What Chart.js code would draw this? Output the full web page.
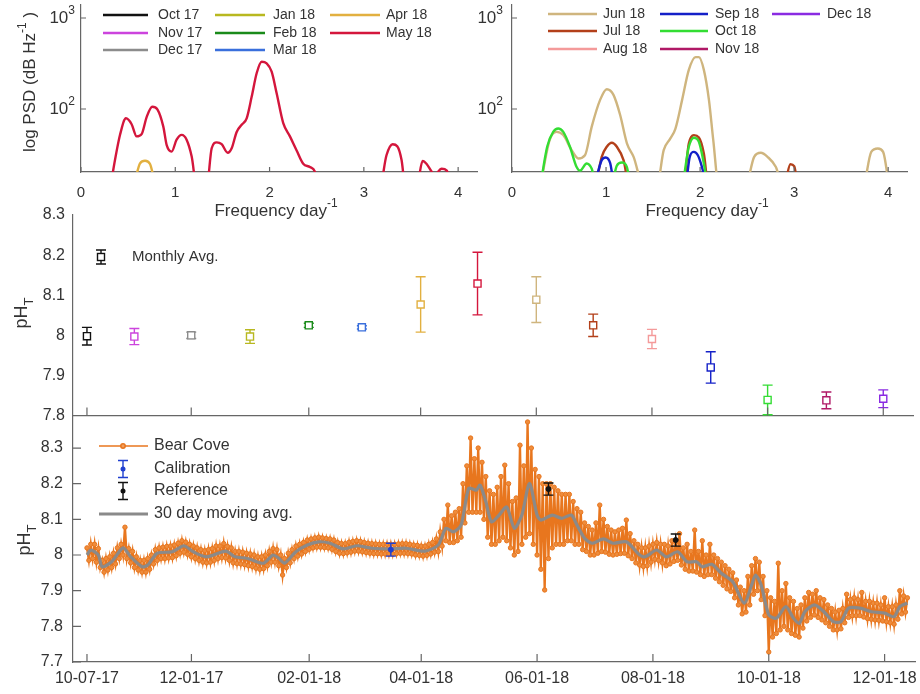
<!DOCTYPE html>
<html>
<head>
<meta charset="utf-8">
<script src="https://cdn.jsdelivr.net/npm/chart.js@4.4.1/dist/chart.umd.min.js"></script>
<style>
  body { margin: 0; background: #fff; }
  #wrap { position: relative; width: 920px; height: 694px; overflow: hidden; }
  canvas { position: absolute; }
</style>
</head>
<body>
<div id="wrap">
  <canvas id="psdA" width="490" height="230" style="left:0;top:0"></canvas>
  <canvas id="psdB" width="460" height="230" style="left:460px;top:0"></canvas>
  <canvas id="monthly" width="920" height="222" style="left:0;top:200px"></canvas>
  <canvas id="series" width="920" height="289" style="left:0;top:405px"></canvas>
</div>
<script>
// ---- months (shared by PSD panels and monthly averages) ----
const months = ["Oct 17", "Nov 17", "Dec 17", "Jan 18", "Feb 18", "Mar 18", "Apr 18", "May 18",
                "Jun 18", "Jul 18", "Aug 18", "Sep 18", "Oct 18", "Nov 18", "Dec 18"];
const monthColors = ["#111111", "#cc44dd", "#8c8c8c", "#b8b820", "#1a8a1a", "#3a6fdc", "#e2b040", "#d4163c",
                     "#cfb57e", "#b3401a", "#f49a9a", "#1420c8", "#33dd33", "#b01866", "#8a2be2"];

// monthly averages (days since 10-07-17)
const monthDays = [0, 25, 55, 86, 117, 145, 176, 206, 237, 267, 298, 329, 359, 390, 420];
const monthAvg = [7.998, 7.997, 8.0, 7.997, 8.025, 8.02, 8.077, 8.129, 8.089, 8.025, 7.991, 7.92, 7.839, 7.838, 7.842];
const monthErr = [0.022, 0.02, 0.008, 0.017, 0.005, 0.004, 0.069, 0.078, 0.057, 0.028, 0.024, 0.039, 0.037, 0.021, 0.022];

// ---- power spectra (frequency in day^-1, PSD) ----
const psdTicksX = [0, 1, 2, 3, 4];
const psdTicksY = [100, 1000];
const psdExp = [2, 3];

const aprFreq = [0.56, 0.626, 0.679, 0.732, 0.79];
const aprPsd = [14, 25.3, 27, 24.9, 14];
const mayFreq = [0.31, 0.414, 0.477, 0.537, 0.59, 0.643, 0.697, 0.756, 0.81, 0.873,
                 0.909, 0.961, 1.014, 1.068, 1.12, 1.174, 1.227, 1.333, 1.386, 1.439,
                 1.492, 1.556, 1.598, 1.651, 1.704, 1.757, 1.81, 1.863, 1.916, 1.969,
                 2.022, 2.075, 2.145, 2.216, 2.287, 2.357, 2.428, 2.481, 2.52, 3.17,
                 3.24, 3.305, 3.354, 3.4, 3.44, 3.56, 3.623, 3.666, 3.72, 3.75,
                 3.825, 3.88, 3.92];
const mayPsd = [14, 52, 79, 68, 50, 53, 82, 106, 99, 64,
                40, 34, 46, 52, 46, 30, 14, 14, 37, 43,
                41, 33, 37, 56, 67, 79, 136, 247, 331, 318,
                257, 149, 70, 50, 35, 25, 23, 20.5, 14, 14,
                31, 41, 39, 27.5, 14, 14, 26.9, 24.9, 20.5, 19,
                22, 21, 14];
const junFreq = [0.30, 0.40, 0.474, 0.545, 0.634, 0.705, 0.776, 0.848, 0.937, 1.008,
                 1.079, 1.15, 1.222, 1.293, 1.40, 1.54, 1.613, 1.684, 1.738, 1.809,
                 1.88, 1.952, 1.987, 2.04, 2.094, 2.14, 2.20, 2.48, 2.575, 2.646,
                 2.717, 2.806, 2.88, 3.73, 3.82, 3.89, 3.946, 4.01];
const junPsd = [14, 45.5, 56, 51.7, 35.3, 28.6, 31, 64, 126, 165,
                143, 86, 42, 29.8, 14, 14, 35.3, 47.5, 61, 126,
                269, 372, 372, 269, 126, 45.5, 14, 14, 29.8, 33,
                29.8, 23, 14, 14, 33.8, 36.8, 33.8, 14];
const julFreq = [0.89, 0.954, 1.008, 1.061, 1.115, 1.186, 1.25, 1.82, 1.88, 1.934, 1.987, 2.04, 2.09, 2.89, 2.96, 3.0, 3.04];
const julPsd = [14, 29.8, 38.5, 42.6, 38.5, 27.4, 14, 14, 41.8, 51.6, 48.7, 32.4, 14, 14, 24.7, 23.5, 14];
const sepFreq = [0.875, 0.954, 0.997, 1.043, 1.095, 1.84, 1.89, 1.934, 1.976, 2.02, 2.07];
const sepPsd = [14, 27.4, 29.3, 25.6, 14, 14, 29.8, 33.8, 31, 23, 14];
const octFreq = [0.30, 0.374, 0.438, 0.491, 0.545, 0.616, 0.687, 0.723, 0.794, 0.848,
                 0.90, 1.05, 1.115, 1.168, 1.222, 1.265, 1.80, 1.88, 1.934, 1.987, 2.04, 2.08];
const octPsd = [14, 38.5, 56, 61, 56, 38.5, 23, 21, 25.2, 22,
                14, 14, 23.9, 25.8, 23, 14, 14, 38.5, 48.3, 43.6, 25.2, 14];

// ---- time series (days since 10-07-17) ----
const dateTickDays = [0, 55, 117, 176, 237, 298, 359, 420];
const dateTickLabels = ["10-07-17", "12-01-17", "02-01-18", "04-01-18", "06-01-18", "08-01-18", "10-01-18", "12-01-18"];
const monthlyTicks = [7.8, 7.9, 8.0, 8.1, 8.2, 8.3];
const seriesTicks = [7.7, 7.8, 7.9, 8.0, 8.1, 8.2, 8.3];

// Bear Cove readings: upper edge of the band on even days, lower edge on odd days
const bearStartDay = 0;
const bearUpper = [
  8.02, 8.03, 8.03, 8.018, 7.985, 7.99, 7.995, 8.005, 8.02, 8.03,
  8.078, 8.018, 8.01, 7.995, 7.985, 7.985, 7.99, 8.0, 8.015, 8.02,
  8.022, 8.024, 8.025, 8.028, 8.033, 8.04, 8.036, 8.03, 8.025, 8.02,
  8.015, 8.012, 8.015, 8.018, 8.025, 8.025, 8.032, 8.024, 8.02, 8.01,
  8.01, 8.008, 8.005, 8.003, 8.0, 7.995, 7.995, 8.0, 8.01, 8.018,
  8.015, 8.0, 7.99, 8.005, 8.015, 8.025, 8.03, 8.035, 8.042, 8.045,
  8.048, 8.05, 8.048, 8.046, 8.045, 8.042, 8.035, 8.032, 8.032, 8.036,
  8.038, 8.04, 8.038, 8.035, 8.033, 8.032, 8.031, 8.03, 8.03, 8.03,
  8.03, 8.03, 8.031, 8.032, 8.032, 8.03, 8.028, 8.027, 8.025, 8.025,
  8.03, 8.035, 8.045, 8.065, 8.1, 8.14, 8.11, 8.12, 8.13, 8.2,
  8.25, 8.328, 8.27, 8.3, 8.26, 8.22, 8.18, 8.17, 8.19, 8.22,
  8.252, 8.2, 8.15, 8.16, 8.308, 8.25, 8.373, 8.3, 8.24, 8.22,
  8.2, 8.2, 8.2, 8.19, 8.18, 8.17, 8.17, 8.17, 8.15, 8.13,
  8.12, 8.09, 8.08, 8.07, 8.09, 8.14, 8.1, 8.08, 8.07, 8.065,
  8.07, 8.075, 8.098, 8.06, 8.04, 8.03, 8.02, 8.02, 8.025, 8.03,
  8.035, 8.03, 8.03, 8.025, 8.04, 8.035, 8.06, 8.02, 8.03, 8.01,
  8.07, 8.01, 8.04, 8.0, 8.03, 8.0, 7.99, 7.98, 7.97, 7.96,
  7.95, 7.93, 7.91, 7.9, 7.94, 7.97, 7.99, 7.98, 7.94, 7.9,
  7.88, 7.87, 7.977, 7.9, 7.92, 7.88, 7.87, 7.85, 7.86, 7.88,
  7.895, 7.89, 7.9, 7.88, 7.875, 7.86, 7.85, 7.84, 7.845, 7.85,
  7.89, 7.875, 7.88, 7.875, 7.895, 7.87, 7.87, 7.865, 7.865, 7.86,
  7.88, 7.855, 7.855, 7.86, 7.9, 7.885, 7.88
];
const bearLower = [
  7.985, 7.99, 7.98, 7.965, 7.952, 7.958, 7.965, 7.975, 7.99, 8.0,
  7.99, 7.978, 7.965, 7.958, 7.952, 7.952, 7.96, 7.975, 7.985, 7.99,
  7.99, 7.992, 7.993, 7.998, 8.005, 8.008, 8.002, 7.995, 7.99, 7.985,
  7.98, 7.978, 7.98, 7.985, 7.99, 7.993, 7.992, 7.985, 7.978, 7.976,
  7.975, 7.973, 7.97, 7.968, 7.963, 7.96, 7.962, 7.97, 7.98, 7.98,
  7.97, 7.944, 7.965, 7.978, 7.99, 7.997, 8.003, 8.01, 8.016, 8.02,
  8.022, 8.022, 8.021, 8.02, 8.016, 8.01, 8.005, 8.004, 8.006, 8.008,
  8.011, 8.011, 8.009, 8.007, 8.005, 8.004, 8.004, 8.003, 8.003, 8.003,
  8.003, 8.004, 8.005, 8.005, 8.004, 8.003, 8.0, 7.999, 7.997, 7.999,
  8.003, 8.008, 8.01, 8.025, 8.04, 8.035, 8.035, 8.04, 8.05, 8.09,
  8.12, 8.12, 8.12, 8.12, 8.1, 8.05, 8.03, 8.03, 8.04, 8.05,
  8.04, 8.02, 8.0, 8.01, 8.03, 8.05, 8.06, 8.03, 8.0, 7.96,
  7.902, 7.99, 8.02, 8.03, 8.03, 8.03, 8.04, 8.04, 8.03, 8.03,
  8.015, 8.01, 8.0, 8.0, 8.005, 8.01, 8.008, 8.002, 8.0, 8.002,
  8.004, 8.005, 7.998, 7.99, 7.978, 7.972, 7.968, 7.97, 7.98, 7.988,
  7.985, 7.978, 7.97, 7.975, 7.982, 7.985, 7.972, 7.96, 7.955, 7.955,
  7.952, 7.945, 7.94, 7.945, 7.945, 7.935, 7.925, 7.915, 7.905, 7.898,
  7.88, 7.86, 7.835, 7.84, 7.86, 7.89, 7.9, 7.875, 7.83, 7.728,
  7.77, 7.78, 7.79, 7.8, 7.79, 7.78, 7.775, 7.77, 7.795, 7.815,
  7.825, 7.832, 7.825, 7.818, 7.81, 7.8, 7.79, 7.79, 7.793, 7.81,
  7.825, 7.83, 7.83, 7.83, 7.826, 7.822, 7.82, 7.818, 7.817, 7.815,
  7.813, 7.81, 7.806, 7.82, 7.835, 7.84
];
const maDays = [0, 2, 6, 8, 13, 19, 23, 29, 32, 37, 45, 51, 56, 63, 73, 78, 84, 87, 93, 98,
                101, 104, 110, 116, 122, 128, 135, 142, 150, 159, 168, 178, 185, 189, 193, 197, 201, 205, 207, 210,
                213, 217, 221, 225, 229, 233, 237, 239, 245, 250, 255, 258, 262, 266, 272, 277, 284, 291, 294, 300,
                305, 311, 316, 321, 324, 329, 334, 340, 346, 350, 352, 355, 359, 363, 368, 372, 375, 378, 383, 388,
                393, 397, 401, 407, 413, 420, 425, 428, 432];
const maPH = [8.0, 8.014, 8.0, 7.967, 7.981, 8.02, 7.995, 7.967, 7.972, 8.005, 8.009, 8.026, 8.009, 7.995, 8.011, 7.995, 7.991, 7.986, 7.977, 8.0,
              7.991, 7.977, 8.009, 8.028, 8.037, 8.033, 8.017, 8.026, 8.019, 8.017, 8.019, 8.011, 8.028, 8.075, 8.065, 8.084, 8.187, 8.182, 8.196, 8.15,
              8.093, 8.112, 8.135, 8.075, 8.112, 8.201, 8.112, 8.098, 8.112, 8.103, 8.112, 8.084, 8.047, 8.033, 8.045, 8.033, 8.037, 8.0, 7.995, 8.014,
              7.995, 8.009, 7.981, 7.981, 7.967, 7.974, 7.949, 7.925, 7.865, 7.916, 7.944, 7.916, 7.832, 7.823, 7.855, 7.823, 7.808, 7.841, 7.86, 7.841,
              7.813, 7.813, 7.851, 7.851, 7.841, 7.837, 7.827, 7.855, 7.865];
const calDays = [160];
const calPH = [8.015];
const calErr = [0.018];
const refDays = [243, 310];
const refPH = [8.185, 8.042];
const refErr = [0.017, 0.017];

// ---- helpers ----
const FONT = "'Liberation Sans', Arial, sans-serif";
const TEXT = "#333";
const AXIS = { color: "#666", width: 1.2 };
const X_MIN = -7.36, X_MAX = 436;

Chart.defaults.font.family = FONT;
Chart.defaults.color = TEXT;

function fixSize(w, h) {
  return function (s) {
    if (w != null) s.width = w;
    if (h != null) s.height = h;
    s.paddingLeft = s.paddingRight = s.paddingTop = s.paddingBottom = 0;
  };
}

function richText(ctx, parts, x, y, align) {
  let w = 0;
  parts.forEach(p => { ctx.font = p[1] + "px " + FONT; w += ctx.measureText(p[0]).width; });
  let cx = align === "center" ? x - w / 2 : align === "right" ? x - w : x;
  parts.forEach(p => {
    ctx.font = p[1] + "px " + FONT;
    ctx.fillText(p[0], cx, y + (p[2] || 0));
    cx += ctx.measureText(p[0]).width;
  });
}

function innerTicks(xVals, yVals, len) {
  return {
    id: "innerTicks",
    afterDatasetsDraw(chart) {
      const { ctx, chartArea: a, scales } = chart;
      ctx.save();
      ctx.strokeStyle = "#666";
      ctx.lineWidth = 1.2;
      ctx.beginPath();
      xVals.forEach(v => {
        const px = scales.x.getPixelForValue(v);
        ctx.moveTo(px, a.bottom); ctx.lineTo(px, a.bottom - len);
      });
      yVals.forEach(v => {
        const py = scales.y.getPixelForValue(v);
        ctx.moveTo(a.left, py); ctx.lineTo(a.left + len, py);
      });
      ctx.stroke();
      ctx.restore();
    }
  };
}

function errorBars(hook) {
  const draw = chart => {
    const { ctx, scales } = chart;
    ctx.save();
    chart.data.datasets.forEach(ds => {
      if (!ds.errors) return;
      ds.data.forEach((p, j) => {
        const px = scales.x.getPixelForValue(p.x);
        const t = scales.y.getPixelForValue(p.y + ds.errors[j]);
        const b = scales.y.getPixelForValue(p.y - ds.errors[j]);
        ctx.strokeStyle = Array.isArray(ds.errorColor) ? ds.errorColor[j] : ds.errorColor;
        ctx.lineWidth = 1.4;
        ctx.beginPath();
        ctx.moveTo(px, t); ctx.lineTo(px, b);
        ctx.moveTo(px - 5, t); ctx.lineTo(px + 5, t);
        ctx.moveTo(px - 5, b); ctx.lineTo(px + 5, b);
        ctx.stroke();
      });
    });
    ctx.restore();
  };
  return hook === "before" ? { id: "errorBars", beforeDatasetsDraw: draw } : { id: "errorBars", afterDatasetsDraw: draw };
}

// ---- PSD panels ----
const psdSeries = {
  "Apr 18": [aprFreq, aprPsd], "May 18": [mayFreq, mayPsd], "Jun 18": [junFreq, junPsd],
  "Jul 18": [julFreq, julPsd], "Sep 18": [sepFreq, sepPsd], "Oct 18": [octFreq, octPsd]
};

function psdDatasets(idxs) {
  return idxs.map((mi, k) => {
    const s = psdSeries[months[mi]] || [[], []];
    return {
      label: months[mi],
      data: s[0].map((f, j) => ({ x: f, y: s[1][j] })),
      borderColor: monthColors[mi],
      borderWidth: 2.4,
      pointRadius: 0,
      showLine: true,
      cubicInterpolationMode: "monotone",
      order: idxs.length - k
    };
  });
}

function psdDecor(idxs, lineX0, lineX1, textX, rowY, freqX, yLabelRight, withYTitle) {
  return {
    id: "psdDecor",
    afterDraw(chart) {
      const ctx = chart.ctx, ys = chart.scales.y;
      ctx.save();
      ctx.fillStyle = TEXT;
      ctx.textAlign = "left";
      ctx.textBaseline = "middle";
      psdTicksY.forEach((v, i) => richText(ctx, [["10", 17], [String(psdExp[i]), 12, -7]], yLabelRight, ys.getPixelForValue(v), "right"));
      richText(ctx, [["Frequency day", 17], ["-1", 12, -7]], freqX, 211, "center");
      idxs.forEach((mi, k) => {
        const c = Math.floor(k / 3), r = k % 3;
        ctx.strokeStyle = monthColors[mi];
        ctx.lineWidth = 2.5;
        ctx.beginPath();
        ctx.moveTo(lineX0[c], rowY[r]); ctx.lineTo(lineX1[c], rowY[r]);
        ctx.stroke();
        richText(ctx, [[months[mi], 14]], textX[c], rowY[r], "left");
      });
      if (withYTitle) {
        ctx.translate(30, 82);
        ctx.rotate(-Math.PI / 2);
        richText(ctx, [["log PSD (dB Hz", 17], ["-1", 12, -7], [" )", 17]], 0, 0, "center");
      }
      ctx.restore();
    }
  };
}

function psdChart(id, idxs, yWidth, decor) {
  return new Chart(document.getElementById(id), {
    type: "scatter",
    data: { datasets: psdDatasets(idxs) },
    options: {
      responsive: false, animation: false, devicePixelRatio: 1, events: [],
      layout: { padding: { top: 5, right: 13, left: 0, bottom: 0 } },
      plugins: { legend: { display: false }, tooltip: { enabled: false } },
      scales: {
        x: {
          type: "linear", min: 0, max: 4.2,
          grid: { display: false, drawTicks: false }, border: AXIS,
          afterBuildTicks: s => { s.ticks = psdTicksX.map(v => ({ value: v })); },
          ticks: { padding: 12, font: { size: 15 }, color: TEXT, maxRotation: 0, autoSkip: false },
          afterFit: fixSize(null, 58)
        },
        y: {
          type: "logarithmic", min: 20.3, max: 1390,
          grid: { display: false, drawTicks: false }, border: AXIS,
          afterBuildTicks: s => { s.ticks = psdTicksY.map(v => ({ value: v })); },
          ticks: { display: false },
          afterFit: fixSize(yWidth, null)
        }
      }
    },
    plugins: [innerTicks(psdTicksX, psdTicksY, 5), decor]
  });
}

psdChart("psdA", [0, 1, 2, 3, 4, 5, 6, 7], 81,
  psdDecor([0, 1, 2, 3, 4, 5, 6, 7], [103, 215, 330], [148, 265, 380], [158, 273, 386], [15, 33, 50], 276, 75, true));
psdChart("psdB", [8, 9, 10, 11, 12, 13, 14], 52,
  psdDecor([8, 9, 10, 11, 12, 13, 14], [88, 200, 312], [137, 248, 360], [143, 255, 367], [14, 31, 49], 247, 43, false));

// ---- monthly averages ----
function phTitle(cx, cy) {
  return ctx => {
    ctx.save();
    ctx.fillStyle = TEXT;
    ctx.textAlign = "left";
    ctx.textBaseline = "middle";
    ctx.translate(cx, cy);
    ctx.rotate(-Math.PI / 2);
    richText(ctx, [["pH", 18], ["T", 13, 7]], 0, 0, "center");
    ctx.restore();
  };
}

const monthlyDecor = {
  id: "monthlyDecor",
  afterDraw(chart) {
    const ctx = chart.ctx;
    phTitle(22, 113)(ctx);
    ctx.save();
    ctx.strokeStyle = "#111";
    ctx.lineWidth = 1.4;
    ctx.beginPath();
    ctx.moveTo(101, 50); ctx.lineTo(101, 64);
    ctx.moveTo(96, 50); ctx.lineTo(106, 50);
    ctx.moveTo(96, 64); ctx.lineTo(106, 64);
    ctx.stroke();
    ctx.fillStyle = "#fff";
    ctx.fillRect(97.5, 53.5, 7, 7);
    ctx.strokeRect(97.5, 53.5, 7, 7);
    ctx.fillStyle = TEXT;
    ctx.textAlign = "left";
    ctx.textBaseline = "middle";
    richText(ctx, [["Monthly Avg.", 15]], 132, 57, "left");
    ctx.restore();
  }
};

new Chart(document.getElementById("monthly"), {
  type: "scatter",
  data: {
    datasets: [{
      label: "Monthly Avg.",
      data: monthDays.map((d, i) => ({ x: d, y: monthAvg[i] })),
      errors: monthErr,
      errorColor: monthColors,
      pointStyle: "rect",
      pointRadius: 5,
      pointBorderWidth: 1.4,
      pointBorderColor: monthColors,
      pointBackgroundColor: "#ffffff"
    }]
  },
  options: {
    responsive: false, animation: false, devicePixelRatio: 1, events: [],
    layout: { padding: { top: 15, right: 4, left: 0, bottom: 0 } },
    plugins: { legend: { display: false }, tooltip: { enabled: false } },
    scales: {
      x: {
        type: "linear", min: X_MIN, max: X_MAX,
        grid: { display: false, drawTicks: false }, border: AXIS,
        ticks: { display: false },
        afterFit: fixSize(null, 5)
      },
      y: {
        min: 7.8, max: 8.3,
        grid: { display: false, drawTicks: false }, border: AXIS,
        afterBuildTicks: s => { s.ticks = monthlyTicks.map(v => ({ value: v })); },
        ticks: { padding: 8, font: { size: 16 }, color: TEXT, autoSkip: false, callback: v => String(+v.toFixed(1)) },
        afterFit: fixSize(73, null)
      }
    }
  },
  plugins: [errorBars("before"), innerTicks(dateTickDays, [], 8), monthlyDecor]
});

// ---- Bear Cove time series ----
const BEAR = "#e8761e";
const bearData = [];
bearUpper.forEach((v, i) => {
  bearData.push({ x: bearStartDay + 2 * i, y: v });
  if (i < bearLower.length) bearData.push({ x: bearStartDay + 2 * i + 1, y: bearLower[i] });
});

const seriesDecor = {
  id: "seriesDecor",
  afterDraw(chart) {
    const ctx = chart.ctx;
    phTitle(25, 135)(ctx);
    ctx.save();
    // Bear Cove
    ctx.strokeStyle = BEAR; ctx.lineWidth = 1.5;
    ctx.beginPath(); ctx.moveTo(99, 41); ctx.lineTo(148, 41); ctx.stroke();
    ctx.fillStyle = "#f0a060";
    ctx.beginPath(); ctx.arc(123, 41, 2.2, 0, Math.PI * 2); ctx.fill(); ctx.stroke();
    // Calibration / Reference
    [[64, "#1f3fd0"], [86, "#111111"]].forEach(r => {
      ctx.strokeStyle = r[1]; ctx.fillStyle = r[1]; ctx.lineWidth = 1.4;
      ctx.beginPath();
      ctx.moveTo(123, r[0] - 8.5); ctx.lineTo(123, r[0] + 8.5);
      ctx.moveTo(118, r[0] - 8.5); ctx.lineTo(128, r[0] - 8.5);
      ctx.moveTo(118, r[0] + 8.5); ctx.lineTo(128, r[0] + 8.5);
      ctx.stroke();
      ctx.beginPath(); ctx.arc(123, r[0], 2.5, 0, Math.PI * 2); ctx.fill();
    });
    // moving average
    ctx.strokeStyle = "#8a8a8a"; ctx.lineWidth = 3;
    ctx.beginPath(); ctx.moveTo(99, 109); ctx.lineTo(148, 109); ctx.stroke();
    ctx.fillStyle = TEXT;
    ctx.textAlign = "left";
    ctx.textBaseline = "middle";
    richText(ctx, [["Bear Cove", 16]], 154, 41, "left");
    richText(ctx, [["Calibration", 16]], 154, 64, "left");
    richText(ctx, [["Reference", 16]], 154, 86, "left");
    richText(ctx, [["30 day moving avg.", 16]], 154, 109, "left");
    ctx.restore();
  }
};

new Chart(document.getElementById("series"), {
  type: "scatter",
  data: {
    datasets: [
      {
        label: "Calibration",
        data: calDays.map((d, i) => ({ x: d, y: calPH[i] })),
        errors: calErr, errorColor: "#1f3fd0",
        pointRadius: 2.5, pointBackgroundColor: "#1f3fd0", pointBorderColor: "#1f3fd0",
        order: 1
      },
      {
        label: "Reference",
        data: refDays.map((d, i) => ({ x: d, y: refPH[i] })),
        errors: refErr, errorColor: "#111111",
        pointRadius: 2.5, pointBackgroundColor: "#111111", pointBorderColor: "#111111",
        order: 1
      },
      {
        label: "30 day moving avg.",
        data: maDays.map((d, i) => ({ x: d, y: maPH[i] })),
        showLine: true, borderColor: "#8a8a8a", borderWidth: 3.2, pointRadius: 0,
        tension: 0.25,
        order: 3
      },
      {
        label: "Bear Cove",
        data: bearData,
        showLine: true, borderColor: BEAR, borderWidth: 2.3,
        pointRadius: 2.2, pointBorderWidth: 1, pointBorderColor: BEAR, pointBackgroundColor: "#ee8c3c",
        order: 4
      }
    ]
  },
  options: {
    responsive: false, animation: false, devicePixelRatio: 1, events: [],
    layout: { padding: { top: 12, right: 4, left: 0, bottom: 0 } },
    plugins: { legend: { display: false }, tooltip: { enabled: false } },
    scales: {
      x: {
        type: "linear", min: X_MIN, max: X_MAX,
        grid: { display: false, drawTicks: false }, border: AXIS,
        afterBuildTicks: s => { s.ticks = dateTickDays.map(v => ({ value: v })); },
        ticks: { padding: 7, font: { size: 16 }, color: TEXT, maxRotation: 0, autoSkip: false,
                 callback: v => dateTickLabels[dateTickDays.indexOf(v)] },
        afterFit: fixSize(null, 32)
      },
      y: {
        min: 7.7, max: 8.387,
        grid: { display: false, drawTicks: false }, border: AXIS,
        afterBuildTicks: s => { s.ticks = seriesTicks.map(v => ({ value: v })); },
        ticks: { padding: 10, font: { size: 16 }, color: TEXT, autoSkip: false, callback: v => String(+v.toFixed(1)) },
        afterFit: fixSize(73, null)
      }
    }
  },
  plugins: [errorBars("after"), innerTicks(dateTickDays, seriesTicks, 8), seriesDecor]
});
</script>
</body>
</html>
